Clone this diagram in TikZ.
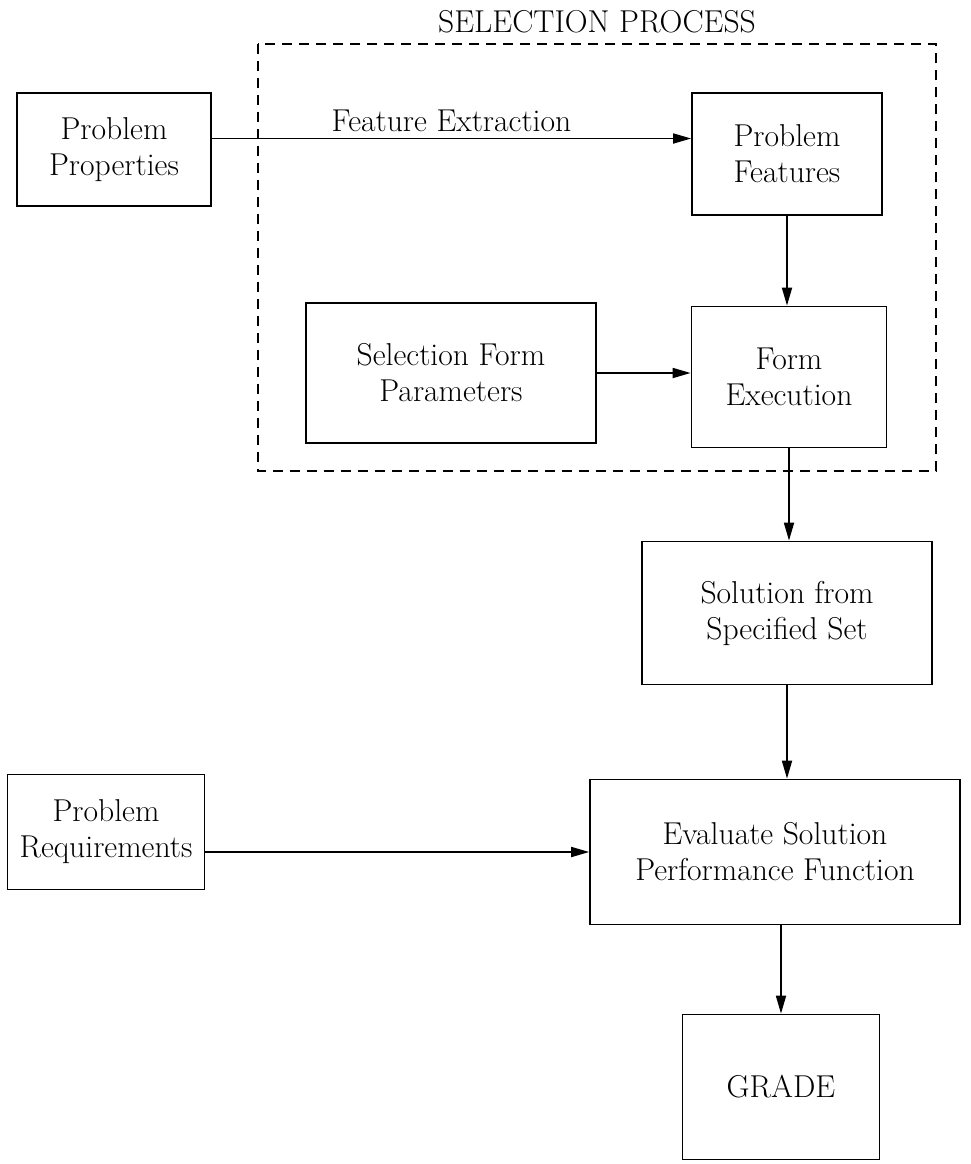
\documentclass[tikz,border=0pt]{standalone}
\usepackage{tikz}
\usetikzlibrary{arrows.meta,positioning,calc}

\tikzset{
  block/.style={draw, line width=1pt, inner sep=0pt, align=center,
    font=\fontsize{18}{20.5}\selectfont},
  flow/.style={line width=1pt, -{Triangle[length=0.36cm,width=0.2cm]}},
  selbox/.style={line width=1pt, dash pattern=on 0.2cm off 0.14cm}
}

\begin{document}
\begin{tikzpicture}[x=0.02cm, y=-0.02cm]
    \useasboundingbox (0,0) rectangle (971,1164);

    % selection process frame
    \draw[selbox] (258,44) rectangle (936,471);
    \node[font=\fontsize{18}{20.5}\selectfont] (title) at (597,22) {SELECTION PROCESS};

    % inputs
    \node[block, minimum width=3.88cm, minimum height=2.26cm] (pp) at (114,149.5) {Problem\\Properties};
    \node[block, minimum width=3.94cm, minimum height=2.3cm] (pr) at (106,832) {Problem\\Requirements};

    % inside the selection process
    \node[block, minimum width=3.8cm, minimum height=2.44cm] (pf) at (787,154) {Problem\\Features};
    \node[block, minimum width=5.8cm, minimum height=2.8cm] (sfp) at (451,373) {Selection Form\\Parameters};
    \node[block, minimum width=3.9cm, minimum height=2.82cm] (fe) at (789,377) {Form\\Execution};

    % results
    \node[block, minimum width=5.8cm, minimum height=2.86cm] (sol) at (787,613) {Solution from\\Specified Set};
    \node[block, minimum width=7.4cm, minimum height=2.9cm] (ev) at (775,852) {Evaluate Solution\\Performance Function};
    \node[block, minimum width=3.94cm, minimum height=2.9cm] (gr) at (781,1087) {GRADE};

    % connectors
    \coordinate (fxs) at ($(pp.east)+(0,-11)$);
    \draw[flow] (fxs) -- node[above, font=\fontsize{18}{20.5}\selectfont] (fx) {Feature Extraction} (fxs -| pf.west);
    \draw[flow] (pf.south) -- (pf.south |- fe.north);
    \draw[flow] (sfp.east) -- (sfp.east -| fe.west);
    \draw[flow] (fe.south) -- (fe.south |- sol.north);
    \draw[flow] (sol.south) -- (sol.south |- ev.north);
    \draw[flow] (pr.east |- ev.west) -- (ev.west);
    \draw[flow] (gr.north |- ev.south) -- (gr.north);
\end{tikzpicture}
\end{document}
